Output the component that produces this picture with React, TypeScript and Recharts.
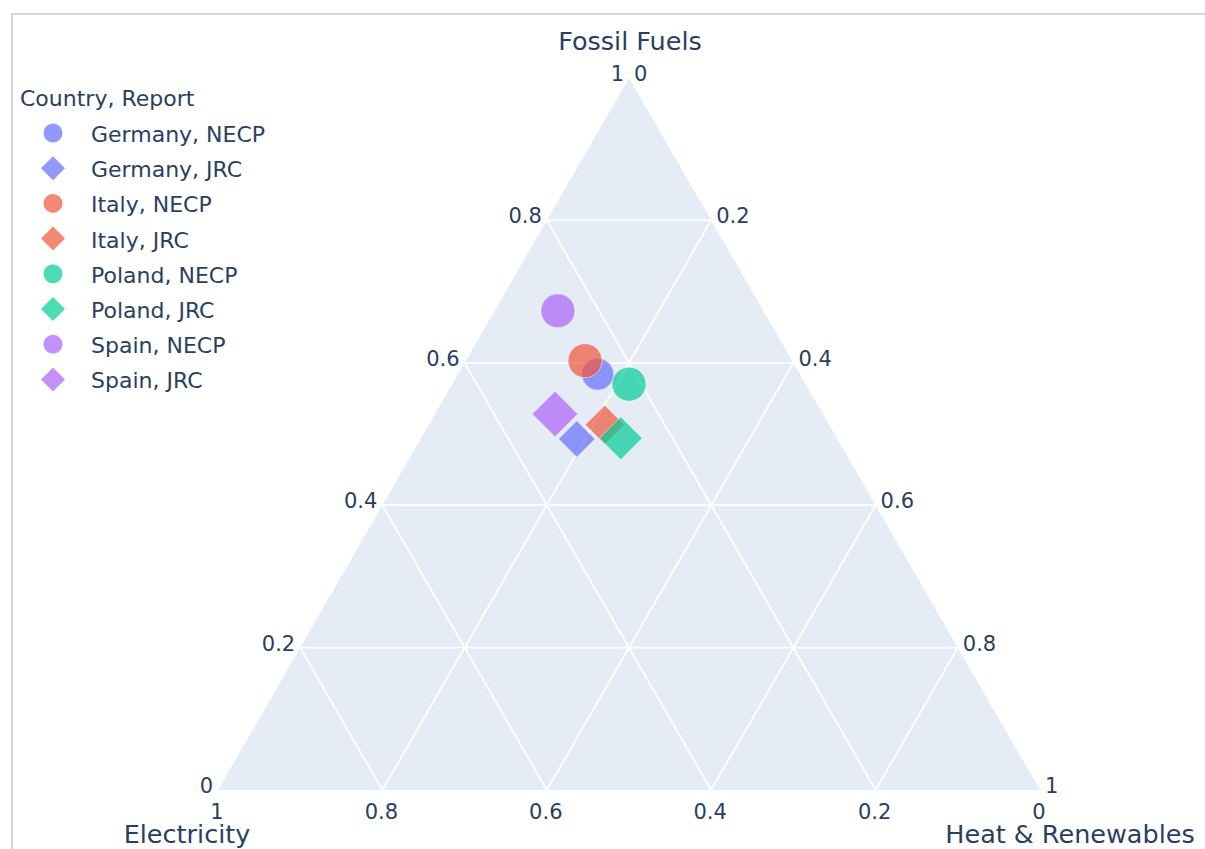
import React from "react";
import {
  Area,
  ComposedChart,
  Legend,
  ReferenceLine,
  Scatter,
  XAxis,
  YAxis,
} from "recharts";

// one entry per trace (country + report), values are shares of final energy
const countries = ["Germany", "Germany", "Italy", "Italy", "Poland", "Poland", "Spain", "Spain"];
const reports = ["NECP", "JRC", "NECP", "JRC", "NECP", "JRC", "NECP", "JRC"];
const fossilFuels = [0.584, 0.493, 0.603, 0.513, 0.57, 0.494, 0.673, 0.528];
const electricity = [0.246, 0.317, 0.252, 0.273, 0.215, 0.263, 0.25, 0.326];
const heatRenewables = [0.17, 0.19, 0.145, 0.214, 0.215, 0.243, 0.077, 0.146];
const markerSize = [32, 28, 34, 30, 34, 33, 34, 35];

const gridValues = [0.2, 0.4, 0.6, 0.8];
const tickValues = [0, 0.2, 0.4, 0.6, 0.8, 1];
const tickLabels = ["0", "0.2", "0.4", "0.6", "0.8", "1"];

const COLORS: Record<string, string> = {
  Germany: "#636efa",
  Italy: "#EF553B",
  Poland: "#00cc96",
  Spain: "#ab63fa",
};
const FONT = "'DejaVu Sans', Verdana, sans-serif";
const TEXT = "#2a3f5f";
const BG = "#E5ECF6";

// ternary (fossil, heat) -> plane; x runs along the base, y is the fossil share
const toXY = (fossil: number, heat: number) => ({ x: heat + fossil / 2, y: fossil });

const triangle = [toXY(0, 0), toXY(1, 0), toXY(0, 1)];

const series = countries.map((c, i) => ({
  name: `${c}, ${reports[i]}`,
  color: COLORS[c],
  symbol: reports[i] === "NECP" ? "circle" : "diamond",
  data: [{ ...toXY(fossilFuels[i], heatRenewables[i]), size: markerSize[i], e: electricity[i] }],
}));

const fossilTicks = tickValues.map((v, i) => ({ ...toXY(v, 0), text: tickLabels[i] }));
const heatTicks = tickValues.map((v, i) => ({ ...toXY(1 - v, v), text: tickLabels[i] }));
const elecTicks = tickValues.map((v, i) => ({ ...toXY(0, 1 - v), text: tickLabels[i] }));

const textShape =
  (dx: number, dy: number, anchor: "start" | "middle" | "end", size: number) =>
  (props: any) => (
    <text
      x={props.cx + dx}
      y={props.cy + dy}
      textAnchor={anchor}
      fontSize={size}
      fontFamily={FONT}
      fill={TEXT}
    >
      {props.payload.text}
    </text>
  );

const markerShape = (color: string, symbol: string) => (props: any) => {
  const { cx, cy, payload } = props;
  const r = payload.size / 2;
  if (symbol === "circle") {
    return (
      <circle cx={cx} cy={cy} r={r} fill={color} fillOpacity={0.7} stroke="#fff" strokeWidth={0.7} strokeOpacity={0.7} />
    );
  }
  const d = r * 1.3;
  return (
    <polygon
      points={`${cx},${cy - d} ${cx + d},${cy} ${cx},${cy + d} ${cx - d},${cy}`}
      fill={color}
      fillOpacity={0.7}
      stroke="#fff"
      strokeWidth={0.7}
      strokeOpacity={0.7}
    />
  );
};

const LegendBox = () => (
  <svg width={320} height={420} style={{ display: "block" }}>
    <text x={20} y={106} fontSize={22} fontFamily={FONT} fill={TEXT}>
      Country, Report
    </text>
    {series.map((s, i) => {
      const cy = 133 + i * 35.2;
      return (
        <g key={s.name}>
          {s.symbol === "circle" ? (
            <circle cx={53} cy={cy} r={9.5} fill={s.color} fillOpacity={0.7} />
          ) : (
            <polygon
              points={`53,${cy - 12} 65,${cy} 53,${cy + 12} 41,${cy}`}
              fill={s.color}
              fillOpacity={0.7}
            />
          )}
          <text x={91} y={cy + 9} fontSize={22} fontFamily={FONT} fill={TEXT}>
            {s.name}
          </text>
        </g>
      );
    })}
  </svg>
);

const App = () => {
  return (
    <div style={{ position: "fixed", left: 0, top: 0, width: 1205, height: 849, background: "#fff" }}>
      <div
        style={{
          position: "absolute",
          left: 11,
          top: 13,
          right: 0,
          bottom: 0,
          borderTop: "2px solid #d4d4d4",
          borderLeft: "2px solid #d4d4d4",
        }}
      />
      <div style={{ position: "absolute", left: 0, top: 0 }}>
        <ComposedChart width={1205} height={849} margin={{ top: 78, right: 165, bottom: 59, left: 218 }}>
          <XAxis type="number" dataKey="x" domain={[0, 1]} hide />
          <YAxis type="number" dataKey="y" domain={[0, 1]} hide />
          <Area
            data={triangle}
            dataKey="y"
            type="linear"
            stroke="none"
            fill={BG}
            fillOpacity={1}
            legendType="none"
            isAnimationActive={false}
          />
          {gridValues.map((k) => (
            <ReferenceLine key={`f${k}`} segment={[toXY(k, 0), toXY(k, 1 - k)]} stroke="#fff" strokeWidth={1.8} />
          ))}
          {gridValues.map((k) => (
            <ReferenceLine key={`e${k}`} segment={[toXY(1 - k, 0), toXY(0, 1 - k)]} stroke="#fff" strokeWidth={1.8} />
          ))}
          {gridValues.map((k) => (
            <ReferenceLine key={`h${k}`} segment={[toXY(1 - k, k), toXY(0, k)]} stroke="#fff" strokeWidth={1.8} />
          ))}
          {series.map((s) => (
            <Scatter
              key={s.name}
              name={s.name}
              data={s.data}
              shape={markerShape(s.color, s.symbol)}
              isAnimationActive={false}
            />
          ))}
          <Scatter data={fossilTicks} shape={textShape(-5, 3, "end", 21)} legendType="none" isAnimationActive={false} />
          <Scatter data={heatTicks} shape={textShape(5, 3, "start", 21)} legendType="none" isAnimationActive={false} />
          <Scatter data={elecTicks} shape={textShape(-1, 29, "middle", 21)} legendType="none" isAnimationActive={false} />
          <Scatter
            data={[{ ...toXY(1, 0), text: "Fossil Fuels" }]}
            shape={textShape(1, -28, "middle", 25.5)}
            legendType="none"
            isAnimationActive={false}
          />
          <Scatter
            data={[{ ...toXY(0, 0), text: "Electricity" }]}
            shape={textShape(-31, 53, "middle", 25.5)}
            legendType="none"
            isAnimationActive={false}
          />
          <Scatter
            data={[{ ...toXY(0, 1), text: "Heat & Renewables" }]}
            shape={textShape(30, 53, "middle", 25.5)}
            legendType="none"
            isAnimationActive={false}
          />
          <Legend
            layout="vertical"
            align="center"
            verticalAlign="middle"
            wrapperStyle={{ left: 0, top: 0, width: 320, height: 420 }}
            content={() => <LegendBox />}
          />
        </ComposedChart>
      </div>
    </div>
  );
};

export default App;
